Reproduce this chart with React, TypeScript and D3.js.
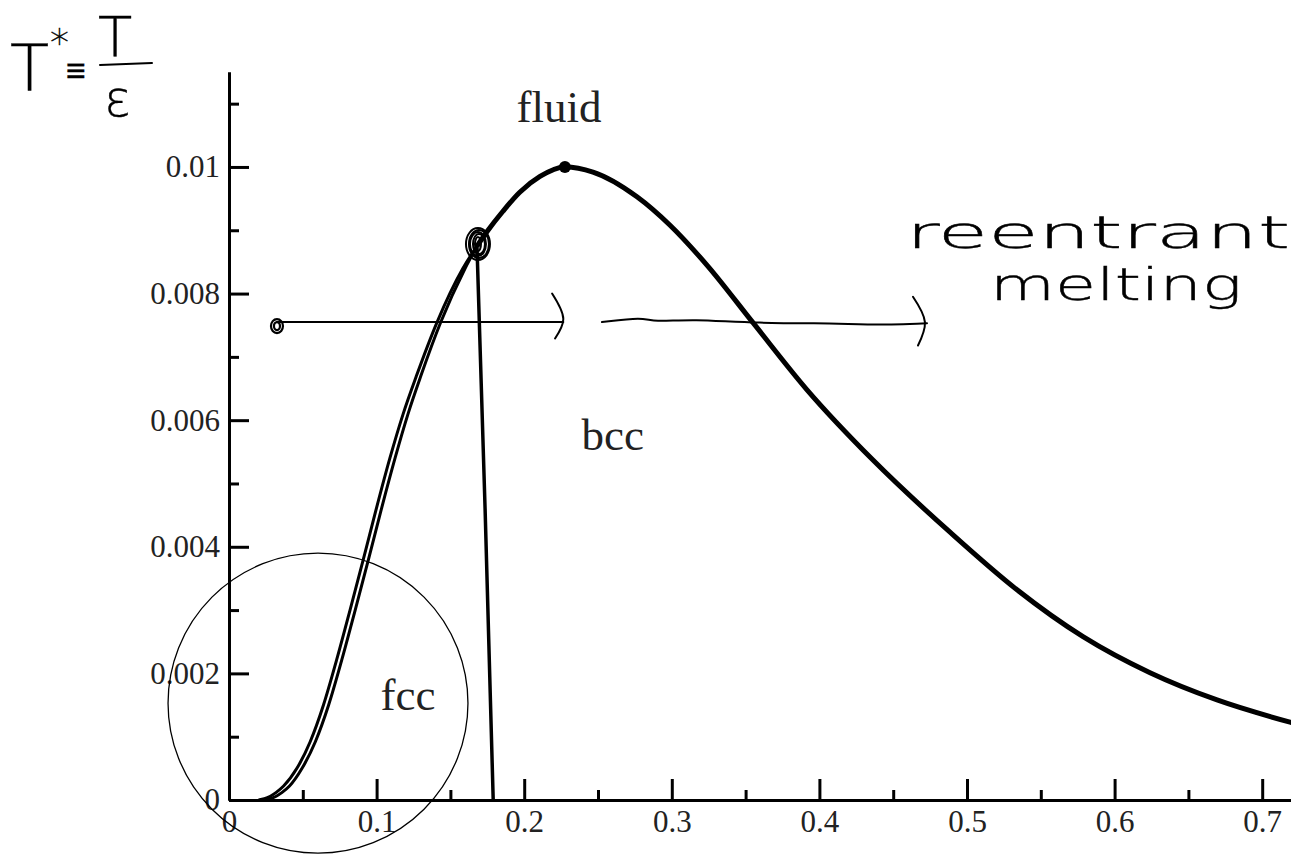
import React, { useEffect, useRef } from 'react';
import * as d3 from 'd3';

// Fluid coexistence line (density, T*)
const fluidRho = [0.020, 0.024, 0.028, 0.032, 0.037, 0.046, 0.055, 0.064, 0.073, 0.082, 0.091, 0.100, 0.109, 0.118, 0.127, 0.141, 0.1585, 0.168, 0.1755, 0.1856, 0.197, 0.2107, 0.2276, 0.2466, 0.2764, 0.2988, 0.3238, 0.355, 0.3916, 0.4363, 0.4885, 0.5339, 0.5786, 0.624, 0.6694, 0.7188, 0.73];
const fluidT = [0, 0.00002, 0.00006, 0.00012, 0.00022, 0.0005, 0.00092, 0.0015, 0.00222, 0.0030, 0.0038, 0.00462, 0.0054, 0.0061, 0.0067, 0.00755, 0.0084, 0.00875, 0.0090, 0.0093, 0.0096, 0.00985, 0.0100, 0.00992, 0.00953, 0.00908, 0.00845, 0.00754, 0.00648, 0.00537, 0.00423, 0.00332, 0.00258, 0.00201, 0.00158, 0.00123, 0.00116];

// fcc side of the fluid-fcc coexistence (left branch only)
const fccRho = [0.024, 0.028, 0.032, 0.036, 0.041, 0.0495, 0.0585, 0.0675, 0.0765, 0.0855, 0.0945, 0.1035, 0.1125, 0.1213, 0.1300, 0.1435, 0.1600, 0.168];
const fccT = [0, 0.00002, 0.00006, 0.00012, 0.00022, 0.0005, 0.00092, 0.0015, 0.00222, 0.0030, 0.0038, 0.00462, 0.0054, 0.0061, 0.0067, 0.00755, 0.0084, 0.00875];

// fcc-bcc boundary
const fccBccRho = [0.168, 0.1735, 0.179];
const fccBccT = [0.00875, 0.0046, 0];

const triple = { rho: 0.168, t: 0.00875 };
const maximum = { rho: 0.2276, t: 0.0100 };

const xMajor = [0, 0.1, 0.2, 0.3, 0.4, 0.5, 0.6, 0.7];
const xMinor = [0.05, 0.15, 0.25, 0.35, 0.45, 0.55, 0.65];
const yMajor = [0, 0.002, 0.004, 0.006, 0.008, 0.01];
const yMinor = [0.001, 0.003, 0.005, 0.007, 0.009, 0.011];

const phaseNames = ['fluid', 'bcc', 'fcc'];
const phaseRho = [0.2236, 0.260, 0.1213];
const phaseT = [0.01071, 0.00553, 0.00142];

// hand-drawn "reentrant melting" isotherm
const isoT = 0.00755;
const isoStart = 0.0325;
const isoEnd1 = 0.2265;
const wavyRho = [0.2527, 0.2805, 0.2873, 0.3144, 0.3550, 0.4228, 0.4323, 0.4729];
const wavyT = [0.00755, 0.00763, 0.00755, 0.00760, 0.00753, 0.00753, 0.00750, 0.00753];
const bracket1Rho = [0.2189, 0.2265, 0.2209];
const bracket1T = [0.00800, 0.00760, 0.00729];
const bracket2Rho = [0.4634, 0.4715, 0.4668];
const bracket2T = [0.00795, 0.00755, 0.00718];
const circleCenter = { rho: 0.0603, t: 0.00153, r: 0.1016 };

const W = 1291;
const H = 857;

const App: React.FC = () => {
  const svgRef = useRef<SVGSVGElement>(null);

  useEffect(() => {
    if (!svgRef.current) return;
    const svg = d3.select(svgRef.current);
    svg.selectAll('*').remove();

    const x = d3.scaleLinear().domain([0, 0.72]).range([229, 229 + 0.72 * 1476]);
    const y = d3.scaleLinear().domain([0, 0.0115]).range([800, 72]);

    const serif = '"Liberation Serif", "Times New Roman", serif';
    const hand = '"DejaVu Sans", sans-serif';

    // axes
    const styleAxis = (g: any, fontSize: number) => {
      g.selectAll('path,line').attr('stroke', '#000').attr('stroke-width', 3);
      g.selectAll('text')
        .attr('fill', '#222')
        .style('font-family', serif)
        .style('font-size', `${fontSize}px`);
      g.attr('font-family', null).attr('font-size', null);
    };

    const xAxis = svg.append('g').attr('transform', 'translate(0,800)')
      .call(d3.axisBottom(x).tickValues(xMajor).tickSizeInner(-21).tickSizeOuter(0).tickPadding(10)
        .tickFormat((d: any) => (d === 0 ? '0' : d3.format('.1f')(d))) as any);
    styleAxis(xAxis, 31);
    const xAxisMinor = svg.append('g').attr('transform', 'translate(0,800)')
      .call(d3.axisBottom(x).tickValues(xMinor).tickSizeInner(-10).tickSizeOuter(0).tickFormat(() => '') as any);
    styleAxis(xAxisMinor, 31);

    const yAxis = svg.append('g').attr('transform', 'translate(229,0)')
      .call(d3.axisLeft(y).tickValues(yMajor).tickSizeInner(-20).tickSizeOuter(0).tickPadding(9)
        .tickFormat((d: any) => (d === 0 ? '0' : d === 0.01 ? '0.01' : d3.format('.3f')(d))) as any);
    styleAxis(yAxis, 31);
    const yAxisMinor = svg.append('g').attr('transform', 'translate(229,0)')
      .call(d3.axisLeft(y).tickValues(yMinor).tickSizeInner(-10).tickSizeOuter(0).tickFormat(() => '') as any);
    styleAxis(yAxisMinor, 31);

    // phase boundaries
    const fluidData = fluidRho.map((r, i) => [r, fluidT[i]] as [number, number]);
    const fccData = fccRho.map((r, i) => [r, fccT[i]] as [number, number]);
    const fccBccData = fccBccRho.map((r, i) => [r, fccBccT[i]] as [number, number]);
    const line = d3.line<[number, number]>().x(d => x(d[0])).y(d => y(d[1])).curve(d3.curveMonotoneX);

    const plot = svg.append('g');
    plot.append('path').datum(fluidData.filter(d => d[0] >= triple.rho))
      .attr('d', line).attr('fill', 'none').attr('stroke', '#000').attr('stroke-width', 5);
    plot.append('path').datum(fluidData)
      .attr('d', line).attr('fill', 'none').attr('stroke', '#000').attr('stroke-width', 3);
    plot.append('path').datum(fccData)
      .attr('d', line).attr('fill', 'none').attr('stroke', '#000').attr('stroke-width', 3);
    plot.append('path').datum(fccBccData)
      .attr('d', d3.line<[number, number]>().x(d => x(d[0])).y(d => y(d[1])).curve(d3.curveNatural))
      .attr('fill', 'none').attr('stroke', '#000').attr('stroke-width', 3.5);

    plot.append('circle').attr('cx', x(maximum.rho)).attr('cy', y(maximum.t)).attr('r', 6).attr('fill', '#000');

    // phase labels
    plot.selectAll('.phase').data(phaseNames).enter().append('text')
      .attr('class', 'phase')
      .attr('x', (_d, i) => x(phaseRho[i]))
      .attr('y', (_d, i) => y(phaseT[i]))
      .attr('text-anchor', 'middle')
      .attr('fill', '#222')
      .style('font-family', serif)
      .style('font-size', '45px')
      .text(d => d);

    // hand annotations
    const ann = svg.append('g').attr('fill', 'none').attr('stroke', '#000').attr('stroke-width', 2)
      .attr('stroke-linecap', 'round');
    ann.append('circle')
      .attr('cx', x(circleCenter.rho)).attr('cy', y(circleCenter.t))
      .attr('r', x(circleCenter.r) - x(0)).attr('stroke-width', 1.3);

    [[12, 16], [10, 14], [8, 12], [6, 10], [3, 7]].forEach(([rx, ry], i) => {
      ann.append('ellipse').attr('cx', x(triple.rho) + 1 + (i % 2)).attr('cy', y(triple.t) - 2)
        .attr('rx', rx).attr('ry', ry).attr('stroke-width', 2);
    });
    [[6, 7], [3, 4]].forEach(([rx, ry]) => {
      ann.append('ellipse').attr('cx', x(isoStart)).attr('cy', y(isoT) + 4)
        .attr('rx', rx).attr('ry', ry).attr('stroke-width', 2.2);
    });

    ann.append('line')
      .attr('x1', x(isoStart)).attr('x2', x(isoEnd1))
      .attr('y1', y(isoT)).attr('y2', y(isoT));
    const wavy = wavyRho.map((r, i) => [r, wavyT[i]] as [number, number]);
    ann.append('path').datum(wavy)
      .attr('d', d3.line<[number, number]>().x(d => x(d[0])).y(d => y(d[1])).curve(d3.curveBasis));
    const bracketLine = d3.line<[number, number]>().x(d => x(d[0])).y(d => y(d[1])).curve(d3.curveCatmullRom);
    ann.append('path').datum(bracket1Rho.map((r, i) => [r, bracket1T[i]] as [number, number])).attr('d', bracketLine);
    ann.append('path').datum(bracket2Rho.map((r, i) => [r, bracket2T[i]] as [number, number])).attr('d', bracketLine);

    const handText = svg.append('g').attr('fill', '#000').attr('stroke', '#000').attr('stroke-width', 0.4)
      .style('font-family', hand).style('font-weight', 200);
    handText.append('text').attr('x', 906).attr('y', 248).attr('textLength', 384).attr('lengthAdjust', 'spacingAndGlyphs')
      .style('font-size', '44px').text('reentrant');
    handText.append('text').attr('x', 990).attr('y', 300).attr('textLength', 252).attr('lengthAdjust', 'spacingAndGlyphs')
      .style('font-size', '44px').text('melting');

    // T* = T / epsilon
    handText.append('text').attr('x', 10).attr('y', 90).style('font-size', '64px').text('T');
    handText.append('text').attr('x', 50).attr('y', 56).style('font-size', '38px').text('*');
    handText.append('text').attr('x', 66).attr('y', 82).style('font-size', '34px').text('\u2261');
    handText.append('text').attr('x', 98).attr('y', 56).style('font-size', '56px').text('T');
    handText.append('text').attr('x', 104).attr('y', 116).style('font-size', '50px').text('\u03b5');
    ann.append('line').attr('x1', 100).attr('x2', 152).attr('y1', 65).attr('y2', 63);
  }, []);

  return (
    <svg
      ref={svgRef}
      width={W}
      height={H}
      style={{ position: 'absolute', left: 0, top: 0, background: '#fff' }}
    />
  );
};

export default App;
